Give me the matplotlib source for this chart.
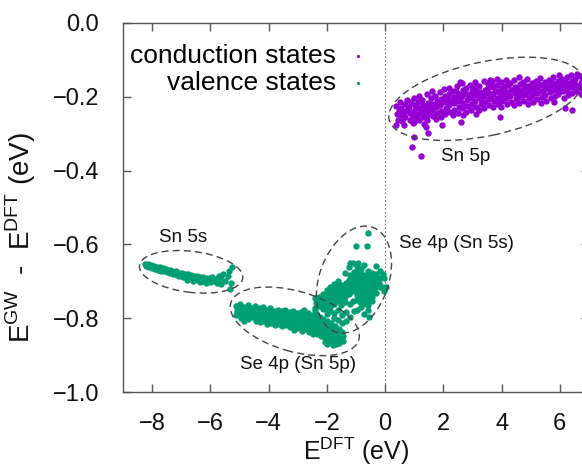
import matplotlib
matplotlib.use("Agg")
import matplotlib.pyplot as plt
from matplotlib.patches import Ellipse
from matplotlib.transforms import ScaledTranslation

# ---------------------------------------------------------------- data
# GW correction vs. DFT energy, conduction band (Sn 5p character)
conduction = [
    (0.38, -0.226), (0.41, -0.247), (0.44, -0.262),
    (0.52, -0.214), (0.56, -0.232), (0.54, -0.251), (0.58, -0.266),
    (0.68, -0.221), (0.72, -0.238), (0.70, -0.255), (0.74, -0.209),
    (0.83, -0.228), (0.87, -0.244), (0.85, -0.262), (0.88, -0.214),
    (0.98, -0.205), (1.02, -0.222), (1.00, -0.239), (1.03, -0.253), (0.99, -0.268),
    (1.13, -0.215), (1.17, -0.231), (1.14, -0.247), (1.18, -0.262), (1.16, -0.198),
    (1.28, -0.208), (1.31, -0.224), (1.33, -0.241), (1.29, -0.256), (1.32, -0.273),
    (1.43, -0.192), (1.47, -0.216), (1.45, -0.233), (1.48, -0.249), (1.44, -0.262),
    (1.58, -0.203), (1.62, -0.219), (1.60, -0.236), (1.63, -0.252), (1.61, -0.185),
    (1.73, -0.197), (1.77, -0.213), (1.75, -0.229), (1.78, -0.245), (1.74, -0.261),
    (1.88, -0.188), (1.92, -0.206), (1.90, -0.222), (1.93, -0.238), (1.91, -0.254),
    (2.03, -0.179), (2.07, -0.198), (2.05, -0.215), (2.08, -0.231), (2.04, -0.247),
    (2.18, -0.192), (2.22, -0.208), (2.20, -0.224), (2.23, -0.241), (2.19, -0.176),
    (2.33, -0.185), (2.37, -0.201), (2.35, -0.218), (2.38, -0.235), (2.34, -0.251),
    (2.48, -0.171), (2.52, -0.194), (2.50, -0.211), (2.53, -0.227), (2.49, -0.243),
    (2.63, -0.164), (2.67, -0.182), (2.65, -0.199), (2.68, -0.216), (2.64, -0.232), (2.66, -0.249),
    (2.78, -0.176), (2.82, -0.193), (2.80, -0.209), (2.83, -0.226), (2.79, -0.241),
    (2.93, -0.168), (2.97, -0.185), (2.95, -0.203), (2.98, -0.219), (2.94, -0.236),
    (3.08, -0.178), (3.12, -0.195), (3.10, -0.212), (3.13, -0.228), (3.09, -0.161), (3.11, -0.246),
    (3.23, -0.171), (3.27, -0.188), (3.25, -0.205), (3.28, -0.221), (3.24, -0.237),
    (3.38, -0.157), (3.42, -0.181), (3.40, -0.198), (3.43, -0.214), (3.39, -0.231),
    (3.53, -0.166), (3.57, -0.189), (3.55, -0.206), (3.58, -0.223), (3.54, -0.176),
    (3.68, -0.158), (3.72, -0.175), (3.70, -0.193), (3.73, -0.211), (3.69, -0.229),
    (3.83, -0.169), (3.87, -0.186), (3.85, -0.203), (3.88, -0.219), (3.84, -0.152),
    (3.98, -0.161), (4.02, -0.178), (4.00, -0.196), (4.03, -0.213), (3.99, -0.229),
    (4.13, -0.171), (4.17, -0.188), (4.15, -0.205), (4.18, -0.221), (4.14, -0.155),
    (4.28, -0.164), (4.32, -0.181), (4.30, -0.198), (4.33, -0.214),
    (4.43, -0.156), (4.47, -0.173), (4.45, -0.191), (4.48, -0.207), (4.44, -0.223),
    (4.58, -0.147), (4.62, -0.167), (4.60, -0.184), (4.63, -0.201), (4.59, -0.217),
    (4.73, -0.161), (4.77, -0.178), (4.75, -0.195), (4.78, -0.211),
    (4.88, -0.153), (4.92, -0.171), (4.90, -0.188), (4.93, -0.205), (4.89, -0.221),
    (5.03, -0.164), (5.07, -0.181), (5.05, -0.198), (5.08, -0.214),
    (5.18, -0.157), (5.22, -0.174), (5.20, -0.191), (5.23, -0.207),
    (5.33, -0.149), (5.37, -0.168), (5.35, -0.185), (5.38, -0.201), (5.34, -0.218),
    (5.48, -0.161), (5.52, -0.178), (5.50, -0.195), (5.53, -0.211),
    (5.63, -0.154), (5.67, -0.171), (5.65, -0.188), (5.68, -0.204),
    (5.78, -0.148), (5.82, -0.165), (5.80, -0.182), (5.83, -0.198), (5.79, -0.214),
    (5.93, -0.159), (5.97, -0.176), (5.95, -0.193), (5.98, -0.141),
    (6.08, -0.152), (6.12, -0.169), (6.10, -0.186), (6.13, -0.203),
    (6.23, -0.146), (6.27, -0.163), (6.25, -0.180), (6.28, -0.196),
    (6.38, -0.141), (6.42, -0.158), (6.40, -0.175), (6.43, -0.191),
    (6.53, -0.151), (6.57, -0.168), (6.55, -0.185), (6.58, -0.138),
    (6.68, -0.145), (6.72, -0.162), (6.70, -0.178), (6.73, -0.193),
    (6.83, -0.152), (6.87, -0.169), (6.85, -0.186),
    (0.47, -0.238), (0.62, -0.243), (0.77, -0.231), (0.92, -0.250), (1.07, -0.229),
    (1.22, -0.240), (1.37, -0.233), (1.52, -0.226), (1.67, -0.222), (1.82, -0.218),
    (1.97, -0.214), (2.12, -0.205), (2.27, -0.213), (2.42, -0.203), (2.57, -0.207),
    (2.72, -0.190), (2.87, -0.200), (3.02, -0.193), (3.17, -0.187), (3.32, -0.196),
    (3.47, -0.190), (3.62, -0.198), (3.77, -0.184), (3.92, -0.188), (4.07, -0.186),
    (4.22, -0.194), (4.37, -0.183), (4.52, -0.176), (4.67, -0.186), (4.82, -0.170),
    (4.97, -0.180), (5.12, -0.189), (5.27, -0.165), (5.42, -0.186), (5.57, -0.170),
    (5.72, -0.180), (5.87, -0.173), (6.02, -0.186), (6.17, -0.161), (6.32, -0.172),
    (6.47, -0.165), (6.62, -0.176), (6.77, -0.158),
    (1.07, -0.258), (1.52, -0.244), (2.12, -0.238), (2.72, -0.225), (3.32, -0.213),
    (3.92, -0.205), (4.52, -0.197), (5.12, -0.170), (5.72, -0.160), (6.32, -0.190),
    (2.42, -0.186), (3.02, -0.176), (3.62, -0.170), (4.22, -0.168), (4.82, -0.194),
    (6.02, -0.165),
    (0.38, -0.276), (0.66, -0.277), (0.95, -0.271), (1.00, -0.308), (0.91, -0.335),
    (1.23, -0.361), (1.46, -0.298), (1.42, -0.281), (1.94, -0.277), (2.62, -0.268),
    (3.95, -0.254), (6.19, -0.232), (6.42, -0.236), (2.56, -0.160), (3.60, -0.156),
]

# valence band, Sn 5s group
valence_sn5s = [
    (-8.25, -0.652), (-8.22, -0.659), (-8.14, -0.654), (-8.11, -0.661),
    (-8.03, -0.656), (-8.00, -0.664), (-7.93, -0.658), (-7.90, -0.667),
    (-7.82, -0.661), (-7.79, -0.669), (-7.72, -0.662), (-7.69, -0.671),
    (-7.61, -0.665), (-7.58, -0.673), (-7.51, -0.667), (-7.48, -0.675),
    (-7.40, -0.669), (-7.37, -0.678), (-7.30, -0.671), (-7.27, -0.680),
    (-7.19, -0.673), (-7.16, -0.682), (-7.09, -0.676), (-7.06, -0.685),
    (-6.98, -0.677), (-6.95, -0.687), (-6.88, -0.679), (-6.85, -0.689),
    (-6.77, -0.681), (-6.74, -0.690), (-6.79, -0.696), (-6.67, -0.683), (-6.64, -0.692),
    (-6.56, -0.685), (-6.53, -0.694), (-6.58, -0.699), (-6.46, -0.686), (-6.43, -0.695),
    (-6.35, -0.688), (-6.32, -0.697), (-6.37, -0.702), (-6.25, -0.689), (-6.22, -0.698),
    (-6.14, -0.690), (-6.11, -0.700), (-6.16, -0.704), (-6.04, -0.691), (-6.01, -0.701),
    (-5.93, -0.688), (-5.90, -0.699), (-5.82, -0.694), (-5.78, -0.703),
    (-5.70, -0.684), (-5.62, -0.694), (-5.55, -0.679), (-5.48, -0.699), (-5.41, -0.686),
    (-5.36, -0.672), (-5.30, -0.703), (-5.25, -0.662), (-5.33, -0.721), (-5.62, -0.707),
]

# valence band, Se 4p (Sn 5p) group
valence_se4p_sn5p = [
    (-5.12, -0.766), (-5.09, -0.779), (-5.11, -0.792),
    (-4.98, -0.762), (-4.95, -0.775), (-4.97, -0.788), (-4.96, -0.800),
    (-4.85, -0.768), (-4.82, -0.781), (-4.84, -0.794), (-4.83, -0.806),
    (-4.72, -0.765), (-4.69, -0.778), (-4.71, -0.790), (-4.70, -0.803),
    (-4.59, -0.771), (-4.56, -0.784), (-4.58, -0.797),
    (-4.46, -0.767), (-4.43, -0.780), (-4.45, -0.793), (-4.44, -0.806),
    (-4.33, -0.773), (-4.30, -0.786), (-4.32, -0.799), (-4.31, -0.811),
    (-4.20, -0.770), (-4.17, -0.783), (-4.19, -0.796), (-4.18, -0.808),
    (-4.07, -0.776), (-4.04, -0.789), (-4.06, -0.802), (-4.05, -0.815),
    (-3.94, -0.773), (-3.91, -0.786), (-3.93, -0.799), (-3.92, -0.812),
    (-3.81, -0.779), (-3.78, -0.792), (-3.80, -0.805), (-3.79, -0.818),
    (-3.68, -0.776), (-3.65, -0.789), (-3.67, -0.802), (-3.66, -0.815),
    (-3.55, -0.781), (-3.52, -0.794), (-3.54, -0.807), (-3.53, -0.820),
    (-3.42, -0.778), (-3.39, -0.791), (-3.41, -0.804), (-3.40, -0.817),
    (-3.29, -0.784), (-3.26, -0.797), (-3.28, -0.810), (-3.27, -0.823),
    (-3.16, -0.781), (-3.13, -0.794), (-3.15, -0.807), (-3.14, -0.820), (-3.12, -0.832),
    (-3.03, -0.786), (-3.00, -0.799), (-3.02, -0.812), (-3.01, -0.825),
    (-2.90, -0.783), (-2.87, -0.796), (-2.89, -0.809), (-2.88, -0.822), (-2.86, -0.835),
    (-2.77, -0.789), (-2.74, -0.802), (-2.76, -0.815), (-2.75, -0.828), (-2.78, -0.776),
    (-2.64, -0.786), (-2.61, -0.799), (-2.63, -0.812), (-2.62, -0.825), (-2.60, -0.838),
    (-2.51, -0.792), (-2.48, -0.805), (-2.50, -0.818), (-2.49, -0.831), (-2.47, -0.843),
    (-2.38, -0.789), (-2.35, -0.802), (-2.37, -0.815), (-2.36, -0.828), (-2.34, -0.841), (-2.39, -0.777),
    (-2.25, -0.795), (-2.22, -0.808), (-2.24, -0.821), (-2.23, -0.834), (-2.21, -0.847),
    (-2.12, -0.801), (-2.09, -0.814), (-2.11, -0.827), (-2.10, -0.840), (-2.08, -0.853),
    (-1.99, -0.806), (-1.96, -0.819), (-1.98, -0.832), (-1.97, -0.845), (-1.95, -0.858), (-1.99, -0.868),
    (-1.86, -0.812), (-1.83, -0.825), (-1.85, -0.838), (-1.84, -0.851), (-1.82, -0.863),
    (-1.73, -0.821), (-1.70, -0.834), (-1.72, -0.847), (-1.71, -0.860), (-1.69, -0.869),
    (-1.60, -0.829), (-1.57, -0.842), (-1.59, -0.855), (-1.58, -0.866),
    (-1.47, -0.836), (-1.45, -0.849), (-1.46, -0.861),
    (-4.90, -0.785), (-4.40, -0.790), (-3.86, -0.796), (-3.35, -0.800), (-2.82, -0.812),
    (-2.30, -0.822), (-1.90, -0.842), (-1.65, -0.850), (-2.05, -0.865), (-1.78, -0.872),
]

# valence band, Se 4p (Sn 5s) group
valence_se4p_sn5s = [
    (-2.40, -0.745), (-2.38, -0.758), (-2.41, -0.771),
    (-2.27, -0.741), (-2.25, -0.754), (-2.28, -0.767),
    (-2.14, -0.735), (-2.12, -0.748), (-2.15, -0.761), (-2.13, -0.774),
    (-2.01, -0.722), (-1.99, -0.735), (-2.02, -0.748), (-2.00, -0.761), (-2.03, -0.774), (-2.01, -0.787),
    (-1.88, -0.716), (-1.86, -0.729), (-1.89, -0.742), (-1.87, -0.755), (-1.90, -0.768), (-1.88, -0.781),
    (-1.75, -0.708), (-1.73, -0.721), (-1.76, -0.734), (-1.74, -0.747), (-1.77, -0.760), (-1.75, -0.785), (-1.74, -0.798),
    (-1.62, -0.700), (-1.60, -0.713), (-1.63, -0.726), (-1.61, -0.739), (-1.64, -0.752), (-1.62, -0.778), (-1.61, -0.805),
    (-1.49, -0.711), (-1.47, -0.724), (-1.50, -0.737), (-1.48, -0.750), (-1.51, -0.763), (-1.49, -0.790), (-1.48, -0.812),
    (-1.36, -0.678), (-1.34, -0.704), (-1.37, -0.717), (-1.35, -0.730), (-1.38, -0.743), (-1.36, -0.756), (-1.35, -0.782), (-1.34, -0.808),
    (-1.23, -0.660), (-1.21, -0.683), (-1.24, -0.696), (-1.22, -0.709), (-1.25, -0.722), (-1.23, -0.735), (-1.22, -0.761), (-1.21, -0.795),
    (-1.10, -0.651), (-1.08, -0.675), (-1.11, -0.688), (-1.09, -0.701), (-1.12, -0.714), (-1.10, -0.727), (-1.09, -0.753), (-1.08, -0.780),
    (-0.97, -0.659), (-0.95, -0.672), (-0.98, -0.685), (-0.96, -0.698), (-0.99, -0.711), (-0.97, -0.724), (-0.96, -0.737), (-0.98, -0.750), (-0.97, -0.776),
    (-0.84, -0.666), (-0.82, -0.679), (-0.85, -0.692), (-0.83, -0.705), (-0.86, -0.718), (-0.84, -0.731), (-0.83, -0.744), (-0.85, -0.757), (-0.84, -0.770),
    (-0.71, -0.655), (-0.69, -0.682), (-0.72, -0.695), (-0.70, -0.708), (-0.73, -0.721), (-0.71, -0.734), (-0.70, -0.747), (-0.72, -0.760), (-0.71, -0.787),
    (-0.58, -0.672), (-0.56, -0.685), (-0.59, -0.698), (-0.57, -0.711), (-0.60, -0.724), (-0.58, -0.737), (-0.57, -0.750), (-0.59, -0.763), (-0.58, -0.776), (-0.57, -0.795),
    (-0.45, -0.676), (-0.43, -0.689), (-0.46, -0.702), (-0.44, -0.715), (-0.47, -0.728), (-0.45, -0.741), (-0.44, -0.754),
    (-0.32, -0.657), (-0.30, -0.680), (-0.33, -0.693), (-0.31, -0.706), (-0.34, -0.719), (-0.32, -0.732),
    (-0.19, -0.671), (-0.17, -0.690), (-0.20, -0.703), (-0.18, -0.716),
    (-0.06, -0.679), (-0.04, -0.692), (-0.07, -0.714), (-0.05, -0.725),
    (-0.60, -0.568), (-1.00, -0.604), (-0.62, -0.604), (-1.20, -0.651), (-0.94, -0.651), (0.02, -0.714),
]

series_labels = ["conduction states", "valence states"]
series_colors = ["#9400D3", "#009E73"]

x_ticks = [-8, -6, -4, -2, 0, 2, 4, 6]
y_ticks = [-1.0, -0.8, -0.6, -0.4, -0.2, 0.0]

# group annotations: (text, x, y)
group_labels = [
    ("Sn 5p", 2.75, -0.363),
    ("Sn 5s", -6.95, -0.580),
    ("Se 4p (Sn 5s)", 2.45, -0.597),
    ("Se 4p (Sn 5p)", -2.99, -0.926),
]

# grouping ellipses: centre (data), semi-axes (pixels), tilt (deg)
group_ellipses = [
    (3.46, -0.206, 99, 37, 12),
    (-6.66, -0.674, 52, 20.5, -7),
    (-3.10, -0.808, 66.6, 30.2, -16),
    (-1.07, -0.695, 55.5, 34.5, 70),
]

# ---------------------------------------------------------------- figure
plt.rcParams["font.family"] = ["Liberation Sans", "DejaVu Sans"]
plt.rcParams["mathtext.fontset"] = "custom"
plt.rcParams["mathtext.rm"] = "Liberation Sans"

DPI = 100
fig = plt.figure(figsize=(5.82, 4.70), dpi=DPI)
ax = fig.add_axes([0.2113, 0.1653, 0.8007, 0.7864])
ax.set_xlim(-9, 7)
ax.set_ylim(-1.0, 0.0)

spine_col = "#555555"
for s in ax.spines.values():
    s.set_color(spine_col)
    s.set_linewidth(1.0)

ax.axvline(0, color="#777777", lw=0.8, ls=(0, (1.5, 2)), zorder=1)

cx, cy = zip(*conduction)
v_all = valence_sn5s + valence_se4p_sn5p + valence_se4p_sn5s
vx, vy = zip(*v_all)
ax.scatter(cx, cy, s=21, color=series_colors[0], linewidths=0,
           label=series_labels[0], zorder=3)
ax.scatter(vx, vy, s=21, color=series_colors[1], linewidths=0,
           label=series_labels[1], zorder=3)

fig.canvas.draw()
for (ex, ey, a, b, ang) in group_ellipses:
    tr = fig.dpi_scale_trans + ScaledTranslation(ex, ey, ax.transData)
    e = Ellipse((0, 0), 2 * a / DPI, 2 * b / DPI, angle=ang, transform=tr,
                fill=False, edgecolor="#444444", lw=1.0, ls=(0, (5, 3)),
                zorder=4, clip_on=False)
    ax.add_patch(e)

for txt, tx, ty in group_labels:
    ax.text(tx, ty, txt, fontsize=13.5, ha="center", va="center", color="#111111")

ax.set_xticks(x_ticks)
ax.set_xticklabels([f"{v:d}".replace("-", "\u2212") for v in x_ticks])
ax.set_yticks(y_ticks)
ax.set_yticklabels([f"{v:.1f}".replace("-", "\u2212") for v in y_ticks])
ax.tick_params(axis="both", direction="in", length=6, width=1.0, color=spine_col,
               labelsize=17, top=True, right=True, labelcolor="#111111")
ax.tick_params(axis="y", pad=17)
ax.tick_params(axis="x", pad=15)

ax.set_xlabel("E$^{\\mathregular{DFT}}$ (eV)", fontsize=18, labelpad=0, color="#111111")
ax.set_ylabel("E$^{\\mathregular{GW}}$  -  E$^{\\mathregular{DFT}}$ (eV)", fontsize=20,
              color="#111111")
ax.yaxis.set_label_coords(-0.182, 0.42)

leg = ax.legend(loc="upper right", bbox_to_anchor=(0.545, 0.97), frameon=False,
                markerfirst=False, fontsize=19, markerscale=0.5,
                handlelength=0.6, handletextpad=0.55, labelspacing=0.1,
                borderaxespad=0.0)

fig.savefig("out.png", dpi=DPI)
